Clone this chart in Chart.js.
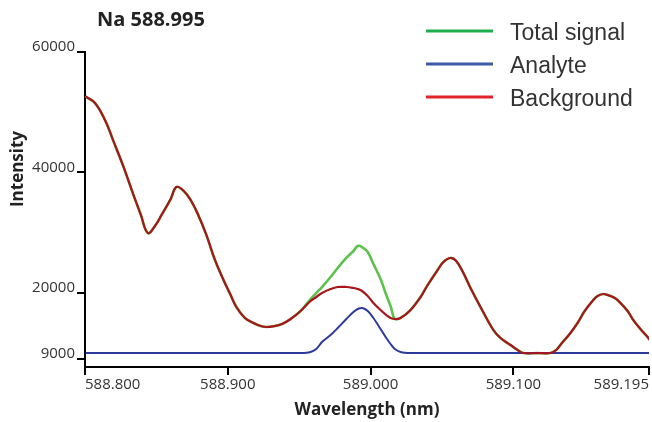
<!DOCTYPE html>
<html>
<head>
<meta charset="utf-8">
<script src="https://cdn.jsdelivr.net/npm/chart.js@4"></script>
<style>
html,body{margin:0;padding:0;background:#fff;}
#wrap{width:652px;height:422px;position:relative;}
</style>
</head>
<body>
<div id="wrap"><canvas id="c" width="652" height="422"></canvas></div>
<script>
// ---- data ----
const chartTitle = 'Na 588.995';
const xAxisTitle = 'Wavelength (nm)';
const yAxisTitle = 'Intensity';
const seriesNames = ['Total signal', 'Analyte', 'Background'];

const xTicks = [588.800, 588.900, 589.000, 589.100, 589.195];
const yTicks = [9000, 20000, 40000, 60000];

const wavelengths = [
  588.801, 588.807, 588.814, 588.820, 588.827, 588.834, 588.839, 588.844, 588.849, 588.854,
  588.860, 588.864, 588.869, 588.874, 588.879, 588.885, 588.891, 588.897, 588.902, 588.906,
  588.912, 588.918, 588.923, 588.927, 588.933, 588.938, 588.944, 588.951, 588.958, 588.962,
  588.966, 588.972, 588.977, 588.983, 588.988, 588.991, 588.994, 588.998, 589.002, 589.007,
  589.011, 589.014, 589.017, 589.021, 589.028, 589.035, 589.040, 589.047, 589.051, 589.056,
  589.060, 589.065, 589.070, 589.077, 589.086, 589.091, 589.098, 589.103, 589.107, 589.117,
  589.126, 589.130, 589.134, 589.140, 589.145, 589.150, 589.156, 589.159, 589.163, 589.166,
  589.171, 589.175, 589.180, 589.184, 589.189, 589.194, 589.195
];

const totalSignal = [
  52530, 51530, 48710, 45160, 40910, 36230, 33040, 29950, 31110, 33100,
  35590, 37590, 36960, 35430, 33100, 29620, 25470, 22150, 19650, 17660,
  15840, 15010, 14510, 14340, 14510, 14840, 15670, 17000, 18990, 19990,
  20980, 22640, 24140, 25800, 26960, 27790, 27620, 26790, 24800, 22310,
  19650, 17830, 15670, 15840, 17160, 19320, 21310, 23810, 25130, 25800,
  25300, 23310, 20820, 17660, 13840, 12510, 11350, 10520, 10020, 10020,
  10020, 10520, 11680, 13350, 15010, 17000, 18820, 19490, 19820, 19650,
  19160, 18330, 17000, 15500, 14010, 12680, 12350
];

const analyte = [
  10020, 10020, 10020, 10020, 10020, 10020, 10020, 10020, 10020, 10020,
  10020, 10020, 10020, 10020, 10020, 10020, 10020, 10020, 10020, 10020,
  10020, 10020, 10020, 10020, 10020, 10020, 10020, 10020, 10190, 10690,
  11850, 13010, 14180, 15670, 16830, 17330, 17500, 17000, 15840, 14010,
  12510, 11520, 10690, 10190, 10020, 10020, 10020, 10020, 10020, 10020,
  10020, 10020, 10020, 10020, 10020, 10020, 10020, 10020, 10020, 10020,
  10020, 10020, 10020, 10020, 10020, 10020, 10020, 10020, 10020, 10020,
  10020, 10020, 10020, 10020, 10020, 10020, 10020
];

const background = [
  52530, 51530, 48710, 45160, 40910, 36230, 33040, 29950, 31110, 33100,
  35590, 37590, 36960, 35430, 33100, 29620, 25470, 22150, 19650, 17660,
  15840, 15010, 14510, 14340, 14510, 14840, 15670, 17000, 18660, 19320,
  19990, 20650, 20980, 20980, 20820, 20650, 20320, 19490, 18330, 17160,
  16330, 15840, 15670, 15840, 17160, 19320, 21310, 23810, 25130, 25800,
  25300, 23310, 20820, 17660, 13840, 12510, 11350, 10520, 10020, 10020,
  10020, 10520, 11680, 13350, 15010, 17000, 18820, 19490, 19820, 19650,
  19160, 18330, 17000, 15500, 14010, 12680, 12350
];

// ---- styles ----
const lineColors = ['#5cc24c', '#2c3a9c', '#a8161c'];
const legendColors = ['#22ad4c', '#3c5aa8', '#e2232a'];

const toPoints = (ys) => wavelengths.map((x, i) => ({ x: x, y: ys[i] }));

const overlay = {
  id: 'overlay',
  afterDraw(chart) {
    const ctx = chart.ctx;
    ctx.save();
    // chart title
    ctx.fillStyle = '#222';
    ctx.textAlign = 'left';
    ctx.textBaseline = 'alphabetic';
    ctx.font = 'bold 20px "Open Sans"';
    ctx.fillText(chartTitle, 97, 26);
    // y axis title
    ctx.save();
    ctx.translate(23, 169);
    ctx.rotate(-Math.PI / 2);
    ctx.textAlign = 'center';
    ctx.font = 'bold 17px "Open Sans"';
    ctx.fillText(yAxisTitle, 0, 0);
    ctx.restore();
    // legend (line samples + labels, stacked)
    [0, 1, 2].forEach((di, row) => {
      const ds = chart.data.datasets[di];
      const yy = 31 + row * 33;
      ctx.strokeStyle = legendColors[di];
      ctx.lineWidth = 3;
      ctx.beginPath();
      ctx.moveTo(426, yy);
      ctx.lineTo(493, yy);
      ctx.stroke();
      ctx.fillStyle = '#333';
      ctx.font = '23px "Liberation Sans"';
      ctx.textAlign = 'left';
      ctx.fillText(ds.label, 510, yy + 8.5);
    });
    ctx.restore();
  }
};

const axisBorder = { color: '#000', width: 2 };
const axisGrid = { drawOnChartArea: false, drawTicks: true, tickLength: 8, color: '#000', lineWidth: 2 };

new Chart(document.getElementById('c'), {
  type: 'line',
  data: {
    datasets: [
      { label: seriesNames[0], data: toPoints(totalSignal), borderColor: lineColors[0], borderWidth: 2.6, order: 3, tension: 0.4 },
      { label: seriesNames[1], data: toPoints(analyte), borderColor: lineColors[1], borderWidth: 2, order: 2, cubicInterpolationMode: 'monotone' },
      { label: seriesNames[2], data: toPoints(background), borderColor: lineColors[2], borderWidth: 2.2, order: 1, tension: 0.4 }
    ]
  },
  options: {
    responsive: false,
    animation: false,
    devicePixelRatio: 1,
    layout: { padding: { top: 52, right: 3, bottom: 0, left: 0 } },
    elements: {
      point: { radius: 0 },
      line: { borderJoinStyle: 'round', borderCapStyle: 'round', fill: false }
    },
    plugins: { legend: { display: false }, title: { display: false }, tooltip: { enabled: false } },
    scales: {
      x: {
        type: 'linear',
        min: 588.8,
        max: 589.195,
        afterBuildTicks: (s) => { s.ticks = xTicks.map(v => ({ value: v })); },
        afterFit: (s) => { s.height = 55; },
        border: axisBorder,
        grid: axisGrid,
        ticks: {
          align: 'inner', maxRotation: 0, autoSkip: false, padding: 1,
          font: { family: '"Open Sans"', size: 15 }, color: '#333',
          callback: (v) => Number(v).toFixed(3)
        },
        title: {
          display: true, text: xAxisTitle, color: '#222',
          font: { family: '"Open Sans"', size: 17, weight: 'bold' },
          padding: { top: 0, bottom: 2 }
        }
      },
      y: {
        type: 'linear',
        min: 7700,
        max: 60000,
        afterBuildTicks: (s) => { s.ticks = yTicks.map(v => ({ value: v })); },
        afterFit: (s) => { s.width = 85; },
        border: axisBorder,
        grid: axisGrid,
        ticks: {
          padding: 2, labelOffset: -5,
          font: { family: '"Open Sans"', size: 15 }, color: '#333',
          callback: (v) => String(v)
        }
      }
    }
  },
  plugins: [overlay]
});
</script>
</body>
</html>
